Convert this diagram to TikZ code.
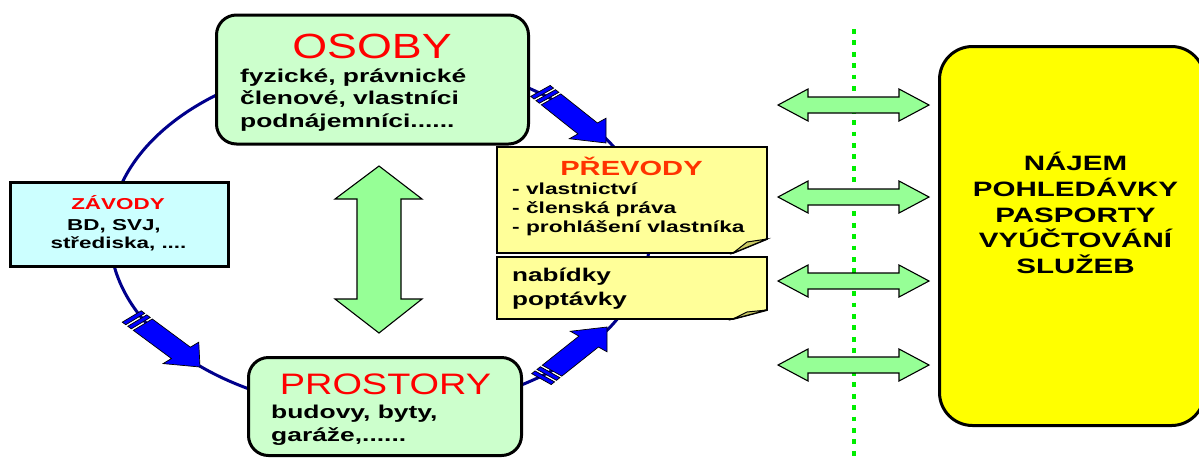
\documentclass[tikz,border=0pt]{standalone}
\usepackage{fontspec}
\setmainfont{Liberation Sans}
\newfontfamily\fTitle[FakeStretch=1.28]{Liberation Sans}
\newfontfamily\fBody[FakeStretch=1.42]{Liberation Sans}
\definecolor{navyline}{RGB}{0,0,140}
\definecolor{boxgreen}{RGB}{204,255,204}
\definecolor{boxcyan}{RGB}{204,255,255}
\definecolor{noteyellow}{RGB}{255,255,153}
\definecolor{foldyellow}{RGB}{204,204,102}
\definecolor{bigyellow}{RGB}{255,255,0}
\definecolor{arrowgreen}{RGB}{150,255,150}
\definecolor{dotgreen}{RGB}{0,238,0}
\definecolor{arrowblue}{RGB}{0,0,255}
\definecolor{titlered}{RGB}{255,0,0}
\definecolor{titleorange}{RGB}{255,51,0}
\tikzset{
  box/.style={draw=black, line width=3pt, inner sep=0pt},
  notebox/.style={draw=black, line width=1.8pt, fill=noteyellow, line join=miter},
  foldtri/.style={draw=black, line width=1pt, fill=foldyellow},
  barrow/.style={draw=black, line width=0.7pt, fill=arrowblue, line join=miter},
  garrow/.style={draw=black, line width=1.1pt, fill=arrowgreen, line join=miter},
  ttl/.style={font=\fTitle\fontsize{#1}{#1}\selectfont, text=titlered, inner sep=0pt, anchor=base},
  bod/.style={font=\fBody\bfseries\fontsize{#1}{#1}\selectfont, text=black, inner sep=0pt, anchor=base west},
  bodc/.style={font=\fBody\bfseries\fontsize{#1}{#1}\selectfont, text=black, inner sep=0pt, anchor=base},
}
\newcommand{\blueArr}[3]{%
  \begin{scope}[shift={(#1,#2)}, xscale=1.5, rotate=#3]
    \draw[barrow] (0,0) -- (-19,16) -- (-19,8.5) -- (-57,8.5) -- (-57,-8.5) -- (-19,-8.5) -- (-19,-16) -- cycle;
    \draw[barrow] (-59,8.5) rectangle (-62.5,-8.5);
    \draw[barrow] (-64.5,8.5) rectangle (-68,-8.5);
  \end{scope}}
\newcommand{\hArr}[1]{%
  \draw[garrow] (778,#1) -- (808,#1-16) -- (808,#1-8) -- (899,#1-8) -- (899,#1-16) -- (929,#1)
    -- (899,#1+16) -- (899,#1+8) -- (808,#1+8) -- (808,#1+16) -- cycle;}
\begin{document}
\begin{tikzpicture}[x=1pt,y=-1pt]
\useasboundingbox (0,0) rectangle (1199,459);
\fill[white] (0,0) rectangle (1199,459);

% cycle line
\draw[navyline, line width=3pt] (380,235) ellipse [x radius=270, y radius=176];

% boxes
\node[box, fill=boxgreen, rounded corners=20pt, minimum width=312pt, minimum height=129pt] (osoby) at (372.5,79.5) {};
\node[box, fill=boxgreen, rounded corners=20pt, minimum width=273pt, minimum height=98pt] (prostory) at (385,406.5) {};
\node[box, fill=boxcyan, minimum width=218pt, minimum height=84pt] (zavody) at (119,224) {};
\node[box, fill=bigyellow, rounded corners=33pt, minimum width=265pt, minimum height=379pt] (big) at (1072,236) {};

% notes
\draw[notebox] (497,147) -- (767,147) -- (767,239) -- (733,253) -- (497,253) -- cycle;
\draw[foldtri] (733,253) -- (747,242) -- (767,239) -- cycle;
\draw[notebox] (497,257) -- (767,257) -- (767,310) -- (733,319) -- (497,319) -- cycle;
\draw[foldtri] (733,319) -- (747,312) -- (767,310) -- cycle;

% blue arrows on the cycle
\blueArr{606}{143}{-50}
\blueArr{200}{367}{-48}
\blueArr{607}{327}{50}

% vertical double arrow
\draw[garrow] (379,166) -- (422,199) -- (401,199) -- (401,299) -- (422,299) -- (379,333)
  -- (335,299) -- (357,299) -- (357,199) -- (335,199) -- cycle;

% dotted boundary
\draw[dotgreen, line width=4.8pt, dash pattern=on 4.8pt off 6.6pt] (854,29) -- (854,458);

% horizontal double arrows
\hArr{105}
\hArr{197}
\hArr{281}
\hArr{365}

% texts: OSOBY
\node[ttl=35] (osobyT) at (372,58) {OSOBY};
\node[bod=18.6] (o1) at (240,82) {fyzické, právnické};
\node[bod=18.6] (o2) at (240,104.3) {členové, vlastníci};
\node[bod=18.6] (o3) at (240,127.5) {podnájemníci......};

% PROSTORY
\node[ttl=29.6] (prostT) at (385.5,394) {PROSTORY};
\node[bod=18.6] (p1) at (271,418) {budovy, byty,};
\node[bod=18.6] (p2) at (271,441.5) {garáže,......};

% ZAVODY
\node[bodc=15.8, text=titlered] (zT) at (118,209) {ZÁVODY};
\node[bodc=15.8] (z1) at (114,230) {BD, SVJ,};
\node[bodc=15.8] (z2) at (118.5,248) {střediska, ....};

% PREVODY
\node[bodc=20.5, text=titleorange] (pvT) at (631.5,175) {PŘEVODY};
\node[bod=16] (pv1) at (512,194) {- vlastnictví};
\node[bod=16] (pv2) at (512,213.5) {- členská práva};
\node[bod=16] (pv3) at (512,232.7) {- prohlášení vlastníka};
\node[bod=18.4] (n1) at (512,281.7) {nabídky};
\node[bod=18.4] (n2) at (512,305) {poptávky};

% big yellow box text
\node[bodc=20.8] (b1) at (1075.5,170) {NÁJEM};
\node[bodc=20.8] (b2) at (1075.5,196) {POHLEDÁVKY};
\node[bodc=20.8] (b3) at (1075.5,222) {PASPORTY};
\node[bodc=20.8] (b4) at (1075.5,247.5) {VYÚČTOVÁNÍ};
\node[bodc=20.8] (b5) at (1075.5,273) {SLUŽEB};
\end{tikzpicture}
\end{document}
